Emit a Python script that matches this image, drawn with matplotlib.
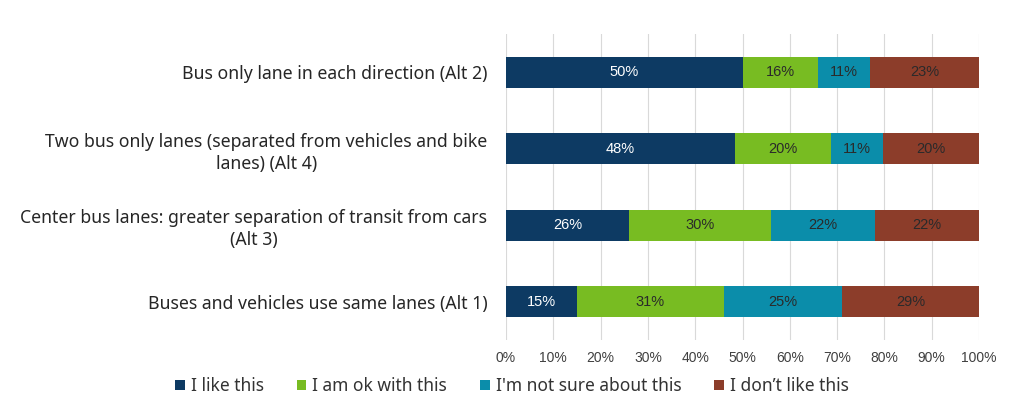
import numpy as np
import matplotlib.pyplot as plt
from matplotlib.font_manager import fontManager

# categories, bottom to top
categories = [
    'Buses and vehicles use same lanes (Alt 1)',
    'Center bus lanes: greater separation of transit from cars\n(Alt 3)',
    'Two bus only lanes (separated from vehicles and bike\nlanes) (Alt 4)',
    'Bus only lane in each direction (Alt 2)',
]
series_names = ['I like this', 'I am ok with this', "I'm not sure about this", 'I don\u2019t like this']
like = [15, 26, 48, 50]
ok = [31, 30, 20, 16]
not_sure = [25, 22, 11, 11]
dislike = [29, 22, 20, 23]
xticks = [0, 10, 20, 30, 40, 50, 60, 70, 80, 90, 100]

colors = ['#0D3A63', '#78BC22', '#0B8DAA', '#8C3D2A']
text_colors = ['white', '#2a2a2a', '#2a2a2a', '#2a2a2a']

names = {f.name for f in fontManager.ttflist}
label_font = 'Noto Sans' if 'Noto Sans' in names else 'DejaVu Sans'

fig = plt.figure(figsize=(10.24, 4.11), dpi=100)
ax = fig.add_axes([506 / 1024, 1 - 340 / 411, 473 / 1024, 306 / 411])

data = np.array([like, ok, not_sure, dislike], dtype=float)
# 100% stacked: normalise each row
share = data / data.sum(axis=0) * 100
y = np.arange(len(categories))
left = np.zeros(len(categories))
for i, name in enumerate(series_names):
    ax.barh(y, share[i], left=left, height=0.4, color=colors[i], label=name, zorder=3)
    for j in range(len(categories)):
        ax.text(left[j] + share[i][j] / 2, y[j], '%d%%' % data[i][j],
                ha='center', va='center', color=text_colors[i],
                fontsize=10.5, family='Liberation Sans', zorder=4)
    left += share[i]

ax.set_xlim(0, 100)
ax.set_ylim(-0.5, 3.5)
ax.set_xticks(xticks)
ax.set_xticklabels(['%d%%' % t for t in xticks], fontsize=10, color='#404040', family='Liberation Sans')
ax.set_yticks(y)
ax.set_yticklabels(categories, fontsize=12.7, color='#262626', family=label_font,
                   multialignment='center', linespacing=1.3)
ax.tick_params(length=0, pad=8)
ax.tick_params(axis='y', pad=13.5)
ax.grid(axis='x', color='#D9D9D9', linewidth=0.8, zorder=0)
for s in ax.spines.values():
    s.set_visible(False)

leg = fig.legend(loc='center', bbox_to_anchor=(512 / 1024, 1 - 386 / 411), ncol=4, frameon=False,
                 handlelength=0.55, handleheight=0.55, handletextpad=0.35, columnspacing=1.9,
                 prop={'family': label_font, 'size': 12.5})
for t in leg.get_texts():
    t.set_color('#333333')

fig.savefig('out.png', dpi=100)
